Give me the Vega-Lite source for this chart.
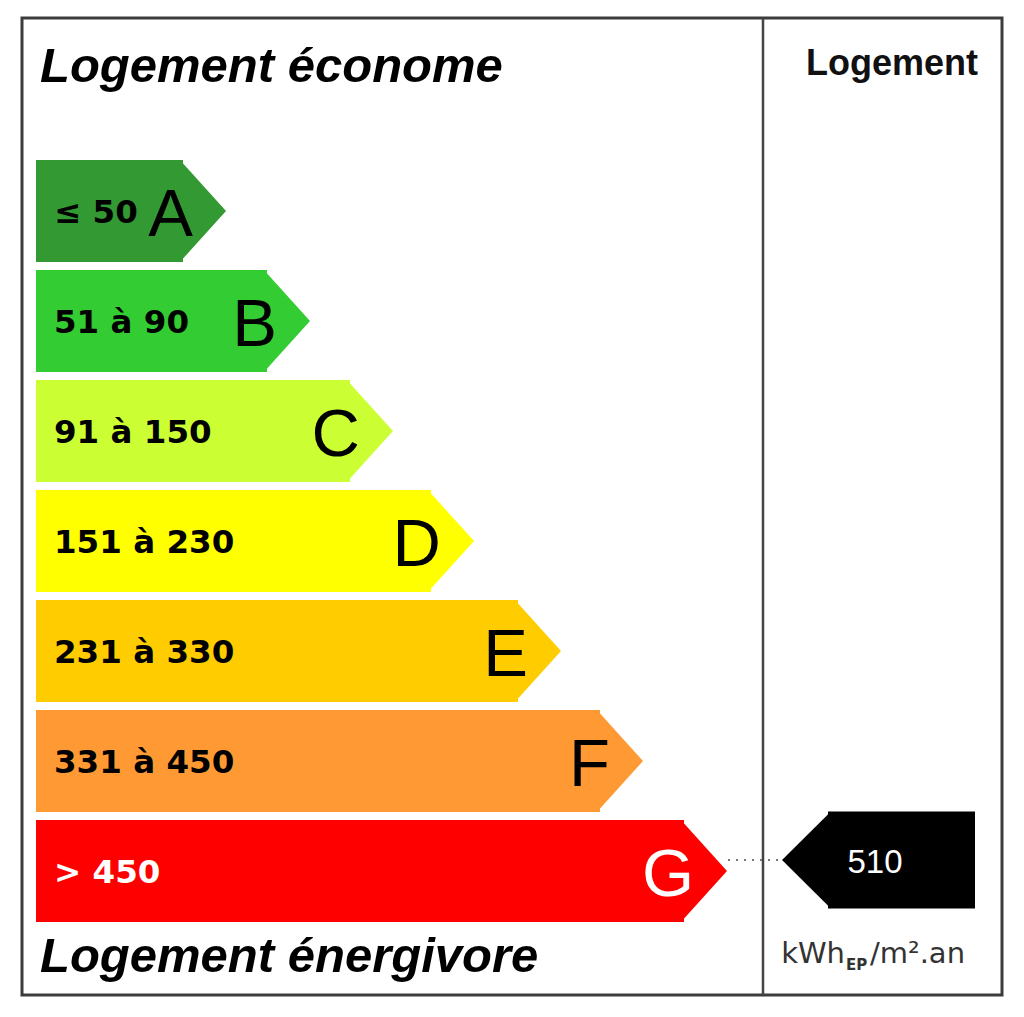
{
  "$schema": "https://vega.github.io/schema/vega-lite/v6.json",
  "width": 980,
  "height": 977,
  "autosize": {"type": "none"},
  "padding": {"left": 22, "top": 18, "right": 22, "bottom": 22},
  "background": "white",
  "config": {"view": {"stroke": "#3c3c3c", "strokeWidth": 3}},
  "data": {"values": [
    {"classe": "A", "rang": 1, "fin": 161, "plage": "≤ 50"},
    {"classe": "B", "rang": 2, "fin": 245, "plage": "51 à 90"},
    {"classe": "C", "rang": 3, "fin": 328, "plage": "91 à 150"},
    {"classe": "D", "rang": 4, "fin": 409, "plage": "151 à 230"},
    {"classe": "E", "rang": 5, "fin": 496, "plage": "231 à 330"},
    {"classe": "F", "rang": 6, "fin": 578, "plage": "331 à 450"},
    {"classe": "G", "rang": 7, "fin": 662, "plage": "> 450"}
  ]},
  "layer": [
    {
      "mark": {"type": "bar", "orient": "horizontal"},
      "encoding": {
        "x": {"field": "fin", "type": "quantitative", "scale": {"domain": [0, 980], "nice": false, "zero": false, "padding": 0}, "axis": null},
        "x2": {"datum": 14},
        "y": {"field": "rang", "type": "quantitative", "scale": {"domain": [-0.7545, 8.1273], "reverse": true, "nice": false, "zero": false, "padding": 0}, "axis": null},
        "size": {"value": 102},
        "color": {"field": "classe", "type": "nominal", "legend": null,
          "scale": {"domain": ["A", "B", "C", "D", "E", "F", "G"], "range": ["#339933", "#33cc33", "#ccff33", "#ffff00", "#ffcc00", "#ff9933", "#ff0000"]}}
      }
    },
    {
      "mark": {"type": "point", "filled": true, "opacity": 1, "strokeWidth": 0, "shape": "M -0.06 -1 L 0.843 0 L -0.06 1 Z"},
      "encoding": {
        "x": {"field": "fin", "type": "quantitative", "axis": null},
        "y": {"field": "rang", "type": "quantitative", "axis": null},
        "size": {"value": 10404},
        "color": {"field": "classe", "type": "nominal", "legend": null}
      }
    },
    {
      "mark": {"type": "text", "align": "left", "baseline": "alphabetic", "dy": 12, "font": "DejaVu Sans", "fontWeight": "bold", "fontSize": 32.5},
      "encoding": {
        "x": {"datum": 32, "type": "quantitative", "axis": null},
        "y": {"field": "rang", "type": "quantitative", "axis": null},
        "text": {"field": "plage", "type": "nominal"},
        "color": {"condition": {"test": "datum.classe === 'G'", "value": "white"}, "value": "black"}
      }
    },
    {
      "mark": {"type": "text", "align": "right", "baseline": "alphabetic", "dx": 10, "dy": 25, "font": "Liberation Sans", "fontSize": 67},
      "encoding": {
        "x": {"field": "fin", "type": "quantitative", "axis": null},
        "y": {"field": "rang", "type": "quantitative", "axis": null},
        "text": {"field": "classe", "type": "nominal"},
        "color": {"condition": {"test": "datum.classe === 'G'", "value": "white"}, "value": "black"}
      }
    },
    {
      "data": {"values": [{"t": "séparation"}]},
      "mark": {"type": "rule", "color": "#444444", "strokeWidth": 2.5},
      "encoding": {"x": {"datum": 741, "type": "quantitative", "axis": null}}
    },
    {
      "data": {"values": [{"t": "liaison"}]},
      "mark": {"type": "rule", "color": "#777777", "strokeWidth": 2, "strokeDash": [2, 6]},
      "encoding": {"x": {"datum": 706, "type": "quantitative", "axis": null}, "x2": {"datum": 760}, "y": {"datum": 6.9, "type": "quantitative", "axis": null}}
    },
    {
      "data": {"values": [{"valeur": 510}]},
      "mark": {"type": "bar", "orient": "horizontal", "color": "black"},
      "encoding": {"x": {"datum": 806, "type": "quantitative", "axis": null}, "x2": {"datum": 953}, "y": {"datum": 6.9, "type": "quantitative", "axis": null}, "size": {"value": 97}}
    },
    {
      "data": {"values": [{"valeur": 510}]},
      "mark": {"type": "point", "filled": true, "opacity": 1, "strokeWidth": 0, "color": "black", "shape": "M 0.06 -1 L -0.948 0 L 0.06 1 Z"},
      "encoding": {"x": {"datum": 806, "type": "quantitative", "axis": null}, "y": {"datum": 6.9, "type": "quantitative", "axis": null}, "size": {"value": 9409}}
    },
    {
      "data": {"values": [{"valeur": 510}]},
      "mark": {"type": "text", "align": "center", "baseline": "alphabetic", "dy": 13, "font": "Liberation Sans", "fontSize": 33, "color": "white"},
      "encoding": {"x": {"datum": 853, "type": "quantitative", "axis": null}, "y": {"datum": 6.9, "type": "quantitative", "axis": null}, "text": {"field": "valeur", "type": "quantitative"}}
    },
    {
      "data": {"values": [{"t": "Logement économe"}]},
      "mark": {"type": "text", "align": "left", "baseline": "alphabetic", "font": "Liberation Sans", "fontWeight": "bold", "fontStyle": "italic", "fontSize": 49, "color": "black"},
      "encoding": {"x": {"datum": 18, "type": "quantitative", "axis": null}, "y": {"datum": -0.1727, "type": "quantitative", "axis": null}, "text": {"field": "t", "type": "nominal"}}
    },
    {
      "data": {"values": [{"t": "Logement énergivore"}]},
      "mark": {"type": "text", "align": "left", "baseline": "alphabetic", "font": "Liberation Sans", "fontWeight": "bold", "fontStyle": "italic", "fontSize": 49, "color": "black"},
      "encoding": {"x": {"datum": 18, "type": "quantitative", "axis": null}, "y": {"datum": 7.918, "type": "quantitative", "axis": null}, "text": {"field": "t", "type": "nominal"}}
    },
    {
      "data": {"values": [{"t": "Logement"}]},
      "mark": {"type": "text", "align": "center", "baseline": "alphabetic", "font": "Liberation Sans", "fontWeight": "bold", "fontSize": 36, "color": "#111111"},
      "encoding": {"x": {"datum": 870, "type": "quantitative", "axis": null}, "y": {"datum": -0.236, "type": "quantitative", "axis": null}, "text": {"field": "t", "type": "nominal"}}
    },
    {
      "data": {"values": [{"t": "kWh"}]},
      "mark": {"type": "text", "align": "right", "baseline": "alphabetic", "font": "DejaVu Sans", "fontSize": 29, "color": "#333333"},
      "encoding": {"x": {"datum": 823, "type": "quantitative", "axis": null}, "y": {"datum": 7.836, "type": "quantitative", "axis": null}, "text": {"field": "t", "type": "nominal"}}
    },
    {
      "data": {"values": [{"t": "EP"}]},
      "mark": {"type": "text", "align": "left", "baseline": "alphabetic", "font": "DejaVu Sans", "fontWeight": "bold", "fontSize": 15, "color": "#333333"},
      "encoding": {"x": {"datum": 824, "type": "quantitative", "axis": null}, "y": {"datum": 7.9, "type": "quantitative", "axis": null}, "text": {"field": "t", "type": "nominal"}}
    },
    {
      "data": {"values": [{"t": "/m².an"}]},
      "mark": {"type": "text", "align": "left", "baseline": "alphabetic", "font": "DejaVu Sans", "fontSize": 29, "color": "#333333"},
      "encoding": {"x": {"datum": 848, "type": "quantitative", "axis": null}, "y": {"datum": 7.836, "type": "quantitative", "axis": null}, "text": {"field": "t", "type": "nominal"}}
    }
  ]
}
